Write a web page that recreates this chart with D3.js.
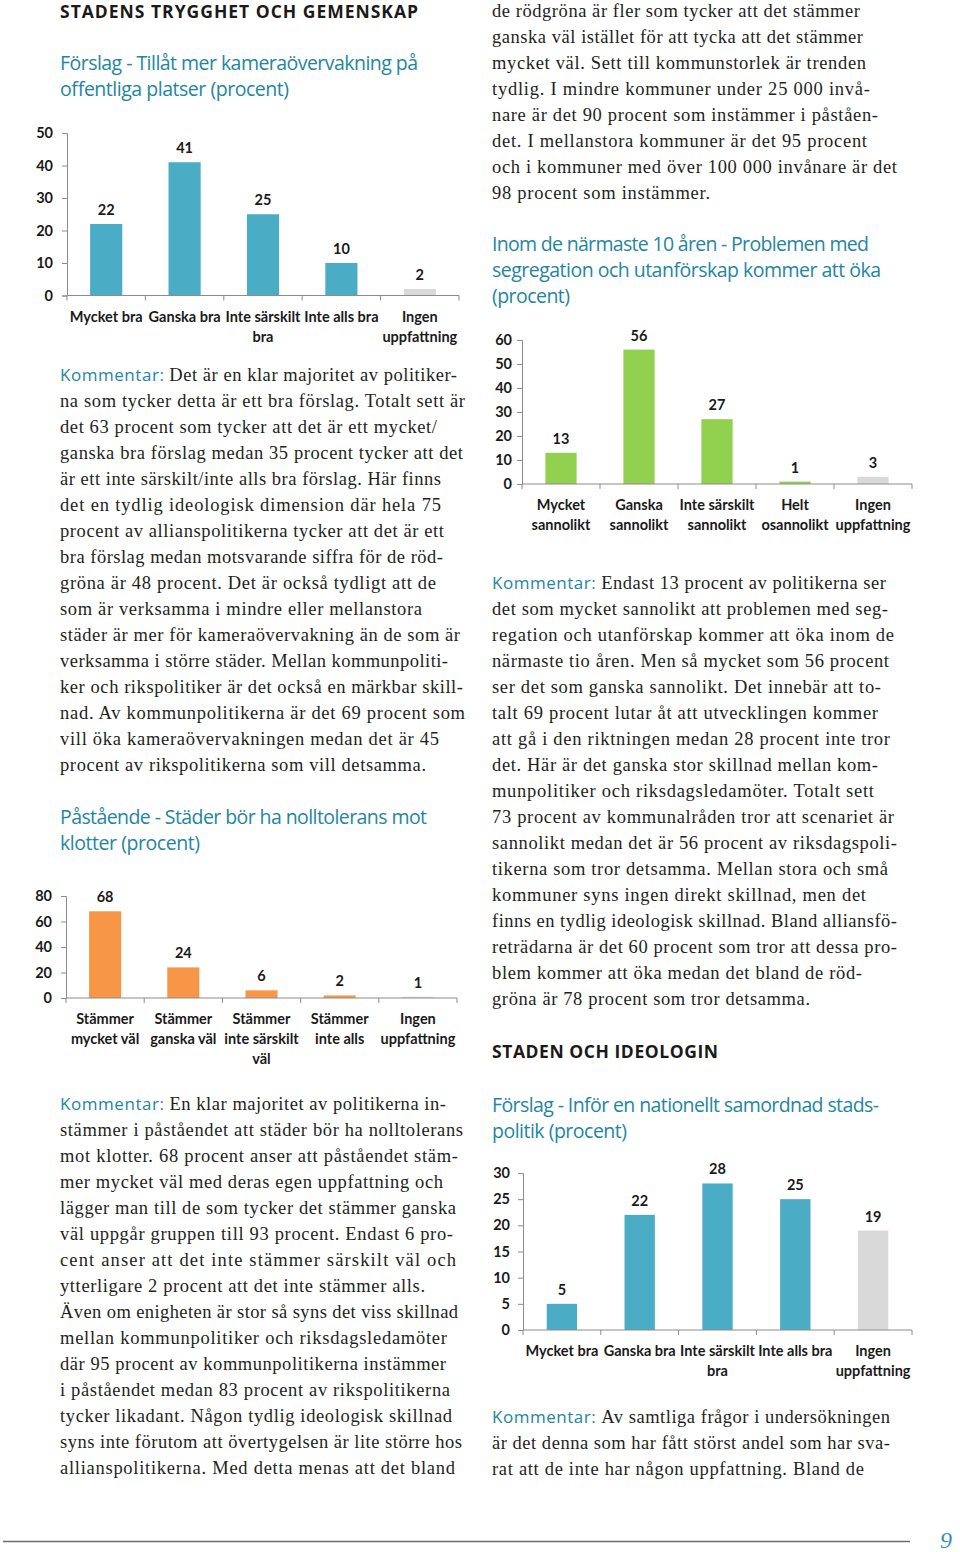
<!DOCTYPE html>
<html><head><meta charset="utf-8">
<script src="https://cdn.jsdelivr.net/npm/d3@7"></script>
<style>
body{margin:0;background:#fff}
svg{display:block}
.body{font-family:"Liberation Serif","Times New Roman",serif;font-size:18.5px;fill:#231f20}
.lead{font-family:"Open Sans","Noto Sans",sans-serif;font-size:17px;fill:#2386a0}
.title{font-family:"Open Sans","Noto Sans",sans-serif;font-size:19.5px;fill:#2386a0}
.head{font-family:"Open Sans","Noto Sans",sans-serif;font-size:17.5px;font-weight:700;fill:#1a1a1a}
.cl{font-family:Lato,"Open Sans",sans-serif;font-size:14.5px;font-weight:700;fill:#1a1a1a}
</style>
</head><body>
<script>
// ---------- DATA ----------
const camCategories = ["Mycket bra","Ganska bra","Inte särskilt\nbra","Inte alls bra","Ingen\nuppfattning"];
const camValues = [22,41,25,10,2];
const camTicks = [0,10,20,30,40,50];

const klotterCategories = ["Stämmer\nmycket väl","Stämmer\nganska väl","Stämmer\ninte särskilt\nväl","Stämmer\ninte alls","Ingen\nuppfattning"];
const klotterValues = [68,24,6,2,1];
const klotterTicks = [0,20,40,60,80];

const segrCategories = ["Mycket\nsannolikt","Ganska\nsannolikt","Inte särskilt\nsannolikt","Helt\nosannolikt","Ingen\nuppfattning"];
const segrValues = [13,56,27,1,3];
const segrTicks = [0,10,20,30,40,50,60];

const stadsCategories = ["Mycket bra","Ganska bra","Inte särskilt\nbra","Inte alls bra","Ingen\nuppfattning"];
const stadsValues = [5,22,28,25,19];
const stadsTicks = [0,5,10,15,20,25,30];

// ---------- TEXT ----------
const heading1 = "STADENS TRYGGHET OCH GEMENSKAP";
const heading2 = "STADEN OCH IDEOLOGIN";
const title1 = ["Förslag - Tillåt mer kameraövervakning på","offentliga platser (procent)"];
const title2 = ["Påstående - Städer bör ha nolltolerans mot","klotter (procent)"];
const title3 = ["Inom de närmaste 10 åren - Problemen med","segregation och utanförskap kommer att öka","(procent)"];
const title4 = ["Förslag - Inför en nationellt samordnad stads-","politik (procent)"];

const para1 = ["Det är en klar majoritet av politiker-",
"na som tycker detta är ett bra förslag.  Totalt sett är",
"det 63 procent som tycker att det är ett mycket/",
"ganska bra förslag medan 35 procent tycker att det",
"är ett inte särskilt/inte alls bra förslag. Här finns",
"det en tydlig ideologisk dimension där hela 75",
"procent av allianspolitikerna tycker att det är ett",
"bra förslag medan motsvarande siffra för de röd-",
"gröna är 48 procent. Det är också tydligt att de",
"som är verksamma i mindre eller mellanstora",
"städer är mer för kameraövervakning än de som är",
"verksamma i större städer. Mellan kommunpoliti-",
"ker och rikspolitiker är det också en märkbar skill-",
"nad. Av kommunpolitikerna är det 69 procent som",
"vill öka kameraövervakningen medan det är 45",
"procent av rikspolitikerna som vill detsamma."];
const para1Ends = [457,465,437,463,441,441,444,443,436,422,460,448,463,465,439,426];

const para2 = ["En klar majoritet av politikerna in-",
"stämmer i påståendet att städer bör ha nolltolerans",
"mot klotter. 68 procent anser att påståendet stäm-",
"mer mycket väl med deras egen uppfattning och",
"lägger man till de som tycker det stämmer ganska",
"väl uppgår gruppen till 93 procent. Endast 6 pro-",
"cent anser att det inte stämmer särskilt väl och",
"ytterligare 2 procent att det inte stämmer alls.",
"Även om enigheten är stor så syns det viss skillnad",
"mellan kommunpolitiker och riksdagsledamöter",
"där 95 procent av kommunpolitikerna instämmer",
"i påståendet medan 83 procent av rikspolitikerna",
"tycker likadant. Någon tydlig ideologisk skillnad",
"syns inte förutom att övertygelsen är lite större hos",
"allianspolitikerna. Med detta menas att det bland"];
const para2Ends = [446,463,458,443,456,453,456,425,458,447,446,450,452,462,455];

const para2b = ["de rödgröna är fler som tycker att det stämmer",
"ganska väl istället för att tycka att det stämmer",
"mycket väl. Sett till kommunstorlek är trenden",
"tydlig. I mindre kommuner under 25 000 invå-",
"nare är det 90 procent som instämmer i påståen-",
"det. I mellanstora kommuner är det 95 procent",
"och i kommuner med över 100 000 invånare är det",
"98 procent som instämmer."];
const para2bEnds = [860,863,866,870,878,867,897,710];

const para3 = ["Endast 13 procent av politikerna ser",
"det som mycket sannolikt att problemen med seg-",
"regation och utanförskap kommer att öka inom de",
"närmaste tio åren. Men så mycket som 56 procent",
"ser det som ganska sannolikt. Det innebär att to-",
"talt 69 procent lutar åt att utvecklingen kommer",
"att gå i den riktningen medan 28 procent inte tror",
"det. Här är det ganska stor skillnad mellan kom-",
"munpolitiker och riksdagsledamöter. Totalt sett",
"73 procent av kommunalråden tror att scenariet är",
"sannolikt medan det är 56 procent av riksdagspoli-",
"tikerna som tror detsamma. Mellan stora och små",
"kommuner syns ingen direkt skillnad, men det",
"finns en tydlig ideologisk skillnad. Bland alliansfö-",
"reträdarna är det 60 procent som tror att dessa pro-",
"blem kommer att öka medan det bland de röd-",
"gröna är 78 procent som tror detsamma."];
const para3Ends = [886,888,894,889,881,878,890,878,874,894,897,888,866,897,897,862,810];

const para4 = ["Av samtliga frågor i undersökningen",
"är det denna som har fått störst andel som har sva-",
"rat att de inte har någon uppfattning. Bland de"];
const para4Ends = [890,890,864];

// ---------- DRAWING ----------
const W = 960, H = 1552;
const svg = d3.select("body").append("svg").attr("width",W).attr("height",H);

const GRAY = "#d9d9d9";

function fitText(sel, x, end){
  sel.attr("textLength", end - x).attr("lengthAdjust","spacing");
}

function heading(txt, x, y, end){
  const t = svg.append("text").attr("class","head").attr("x",x).attr("y",y).text(txt);
  fitText(t, x, end);
}
function title(lines, x, y0, ends){
  lines.forEach((l,i)=>{
    const t = svg.append("text").attr("class","title").attr("x",x).attr("y",y0+i*26).text(l);
    fitText(t, x, ends[i]);
  });
}
function paragraph(lines, ends, x, y0, lead){
  lines.forEach((l,i)=>{
    const t = svg.append("text").attr("class","body").attr("x",x).attr("y",y0+i*26);
    if(i===0 && lead){ t.append("tspan").attr("class","lead").text(lead+" "); }
    t.append("tspan").text(l);
    fitText(t, x, ends[i]);
  });
}

function barChart(o){
  const g = svg.append("g");
  const n = o.categories.length;
  const x = d3.scaleBand().domain(d3.range(n)).range([o.x0,o.x1])
    .paddingInner(o.pad).paddingOuter(o.pad/2);
  const y = d3.scaleLinear().domain([0,o.max]).range([o.yZero,o.yTop]);
  g.selectAll("rect").data(o.values).join("rect")
    .attr("x",(d,i)=>x(i)).attr("width",x.bandwidth())
    .attr("y",d=>y(d)).attr("height",d=>y(0)-y(d))
    .attr("fill",(d,i)=>o.colors[i]);
  g.selectAll("text.v").data(o.values).join("text").attr("class","cl v")
    .attr("x",(d,i)=>x(i)+x.bandwidth()/2).attr("y",d=>y(d)-9)
    .attr("text-anchor","middle").text(d=>d);
  const ya = d3.axisLeft(y).tickValues(o.ticks).tickSize(5).tickPadding(o.labOff-5).tickFormat(d3.format("d"));
  const yg = g.append("g").attr("transform",`translate(${o.x0},0)`).call(ya);
  yg.select(".domain").attr("stroke","#8c8c8c");
  yg.selectAll(".tick line").attr("stroke","#8c8c8c");
  yg.selectAll(".tick text").attr("class","cl").attr("fill",null);
  yg.attr("font-size",null).attr("font-family",null);
  g.append("line").attr("x1",o.x0).attr("x2",o.x1).attr("y1",o.yZero).attr("y2",o.yZero).attr("stroke","#8c8c8c");
  const bounds = d3.range(n+1).map(i=> i<n ? x(i) - x.step()*o.pad/2 : o.x1);
  g.selectAll("line.b").data(bounds).join("line").attr("class","b")
    .attr("x1",d=>d).attr("x2",d=>d).attr("y1",o.yZero).attr("y2",o.yZero+5).attr("stroke","#8c8c8c");
  o.categories.forEach((c,i)=>{
    const t = g.append("text").attr("class","cl").attr("text-anchor","middle");
    c.split("\n").forEach((s,j)=>{
      t.append("tspan").attr("x",x(i)+x.bandwidth()/2).attr("y",o.yZero+26+j*20).text(s);
    });
  });
}

const colorsFor = (vals, main) => vals.map((d,i)=> i===vals.length-1 ? GRAY : main);

heading(heading1, 60, 18, 418);
title(title1, 60, 70, [418,289]);
barChart({categories:camCategories, values:camValues, colors:colorsFor(camValues,"#4bacc6"), ticks:camTicks,
  max:50, x0:67, x1:459, yZero:295.5, yTop:133, pad:0.59, labOff:14});
paragraph(para1, para1Ends, 60, 381, "Kommentar:");

title(title2, 60, 824, [427,200]);
barChart({categories:klotterCategories, values:klotterValues, colors:colorsFor(klotterValues,"#f79646"), ticks:klotterTicks,
  max:80, x0:66, x1:457, yZero:998, yTop:896, pad:0.59, labOff:14});
paragraph(para2, para2Ends, 60, 1110, "Kommentar:");

paragraph(para2b, para2bEnds, 492, 17, null);
title(title3, 492, 251, [869,881,570]);
barChart({categories:segrCategories, values:segrValues, colors:colorsFor(segrValues,"#92d050"), ticks:segrTicks,
  max:60, x0:522, x1:912, yZero:484, yTop:340, pad:0.60, labOff:10});
paragraph(para3, para3Ends, 492, 589, "Kommentar:");

heading(heading2, 492, 1058, 718);
title(title4, 492, 1112, [879,627]);
barChart({categories:stadsCategories, values:stadsValues, colors:colorsFor(stadsValues,"#4bacc6"), ticks:stadsTicks,
  max:30, x0:523, x1:912, yZero:1330, yTop:1173, pad:0.61, labOff:13});
paragraph(para4, para4Ends, 492, 1423, "Kommentar:");

svg.append("line").attr("x1",3).attr("x2",910).attr("y1",1541.5).attr("y2",1541.5).attr("stroke","#6d6e71").attr("stroke-width",1.5);
svg.append("text").attr("x",940).attr("y",1548).attr("font-family","Liberation Serif, serif").attr("font-style","italic")
  .attr("font-size",24).attr("fill","#3a93a8").text("9");
</script>
</body></html>
